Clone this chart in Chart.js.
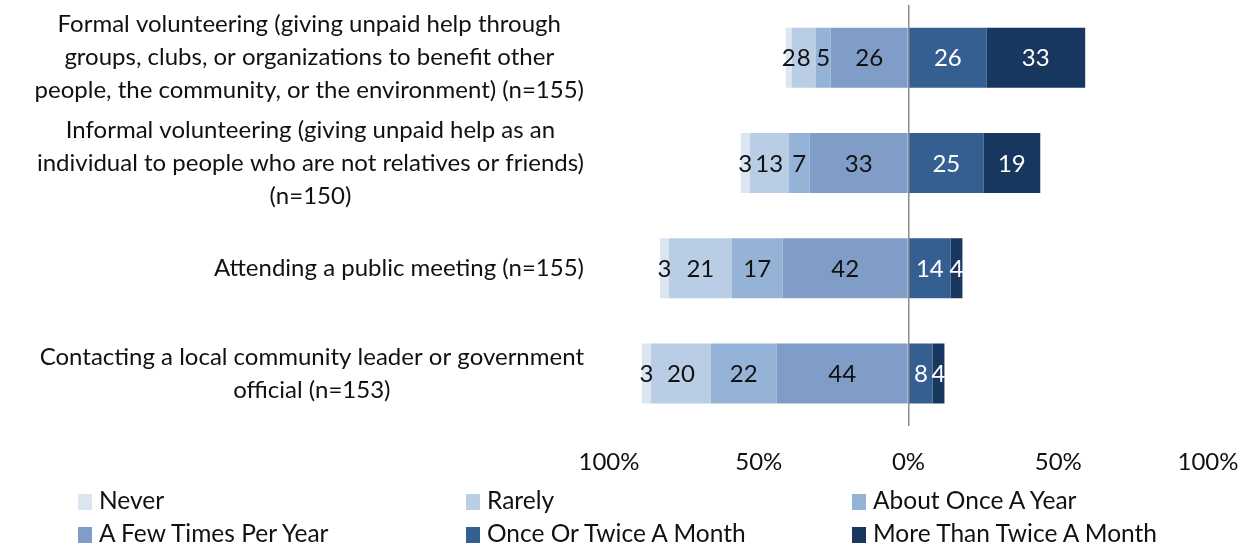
<!DOCTYPE html>
<html>
<head>
<meta charset="utf-8">
<script src="https://cdn.jsdelivr.net/npm/chart.js@4/dist/chart.umd.min.js"></script>
<style>
    html, body { margin: 0; padding: 0; background: #fff; overflow: hidden; }
    #wrap { position: relative; width: 1249px; height: 548px; overflow: hidden; }
    #chart { display: block; }
    #legend { position: absolute; left: 78px; top: 486px; width: 1170px; font-family: Lato, sans-serif; font-size: 24.5px; color: #111; }
    .item { position: absolute; white-space: nowrap; line-height: 28px; }
    .item span.sw { display: inline-block; width: 14px; height: 16px; margin-right: 7px; vertical-align: -1px; }
</style>
</head>
<body>
<div id="wrap">
    <canvas id="chart" width="1249" height="548"></canvas>
    <div id="legend"></div>
</div>
<script>
const categories = [
    ["Formal volunteering (giving unpaid help through", "groups, clubs, or organizations to benefit other", "people, the community, or the environment) (n=155)"],
    ["Informal volunteering (giving unpaid help as an", "individual to people who are not relatives or friends)", "(n=150)"],
    ["Attending a public meeting (n=155)"],
    ["Contacting a local community leader or government", "official (n=153)"]
];

// percentages per category
const never = [2, 3, 3, 3];
const rarely = [8, 13, 21, 20];
const onceAYear = [5, 7, 17, 22];
const fewTimes = [26, 33, 42, 44];
const onceOrTwice = [26, 25, 14, 8];
const moreThanTwice = [33, 19, 4, 4];

const tickValues = [-100, -50, 0, 50, 100];

const FONT = "Lato";

// left-side series go first so "A Few Times Per Year" sits next to 0
const datasets = [
    { label: "A Few Times Per Year", data: fewTimes.map(v => -v), backgroundColor: "#809dc8", legendPos: 3, textColor: "#111" },
    { label: "About Once A Year", data: onceAYear.map(v => -v), backgroundColor: "#95b3d7", legendPos: 2, textColor: "#111" },
    { label: "Rarely", data: rarely.map(v => -v), backgroundColor: "#b9cde5", legendPos: 1, textColor: "#111" },
    { label: "Never", data: never.map(v => -v), backgroundColor: "#dce6f2", legendPos: 0, textColor: "#111" },
    { label: "Once Or Twice A Month", data: onceOrTwice, backgroundColor: "#365f91", legendPos: 4, textColor: "#fff" },
    { label: "More Than Twice A Month", data: moreThanTwice, backgroundColor: "#18375e", legendPos: 5, textColor: "#fff" }
];

// value labels inside the segments
const valueLabels = {
    id: "valueLabels",
    afterDatasetsDraw(chart) {
        const ctx = chart.ctx;
        ctx.save();
        ctx.font = "24px " + FONT;
        ctx.textAlign = "center";
        ctx.textBaseline = "middle";
        chart.data.datasets.forEach((ds, i) => {
            const meta = chart.getDatasetMeta(i);
            meta.data.forEach((bar, j) => {
                ctx.fillStyle = ds.textColor;
                ctx.fillText(Math.abs(ds.data[j]), (bar.x + bar.base) / 2, bar.y + 1);
            });
        });
        ctx.restore();
    }
};

// category labels: block right-aligned to the axis, lines centred inside the block
const categoryLabels = {
    id: "categoryLabels",
    afterDraw(chart) {
        const ctx = chart.ctx;
        const yScale = chart.scales.y;
        const right = 584;
        const lineH = 33;
        ctx.save();
        ctx.font = "24px " + FONT;
        ctx.fillStyle = "#111";
        ctx.textAlign = "center";
        ctx.textBaseline = "middle";
        categories.forEach((lines, i) => {
            const maxW = Math.max(...lines.map(l => ctx.measureText(l).width));
            const cx = right - maxW / 2;
            const cy = yScale.getPixelForValue(i);
            lines.forEach((l, k) => {
                ctx.fillText(l, cx, cy + (k - (lines.length - 1) / 2) * lineH);
            });
        });
        ctx.restore();
    }
};

new Chart(document.getElementById("chart"), {
    type: "bar",
    data: {
        labels: categories,
        datasets: datasets
    },
    options: {
        indexAxis: "y",
        responsive: false,
        animation: false,
        layout: {
            padding: { left: 601, right: 41, top: 5, bottom: 69 }
        },
        datasets: {
            bar: {
                barPercentage: 0.57,
                categoryPercentage: 1
            }
        },
        plugins: {
            legend: { display: false },
            tooltip: { enabled: false }
        },
        scales: {
            x: {
                stacked: true,
                min: -100,
                max: 100,
                afterBuildTicks: scale => {
                    scale.ticks = tickValues.map(v => ({ value: v }));
                },
                grid: {
                    drawTicks: true,
                    tickLength: 20,
                    tickColor: "rgba(0,0,0,0)",
                    color: ctx => ctx.tick && ctx.tick.value === 0 ? "#8c8c8c" : "rgba(0,0,0,0)",
                    lineWidth: 1.5
                },
                border: { display: false },
                ticks: {
                    padding: 2,
                    color: "#111",
                    font: { family: FONT, size: 24 },
                    callback: v => Math.abs(v) + "%"
                }
            },
            y: {
                stacked: true,
                grid: { display: false },
                border: { display: false },
                ticks: { display: false }
            }
        }
    },
    plugins: [valueLabels, categoryLabels]
});

// legend in the original order, three columns
const legendEl = document.getElementById("legend");
const colX = [0, 388, 774];
datasets.slice().sort((a, b) => a.legendPos - b.legendPos).forEach(ds => {
    const item = document.createElement("div");
    item.className = "item";
    item.style.left = colX[ds.legendPos % 3] + "px";
    item.style.top = (Math.floor(ds.legendPos / 3) * 33) + "px";
    const sw = document.createElement("span");
    sw.className = "sw";
    sw.style.background = ds.backgroundColor;
    item.appendChild(sw);
    item.appendChild(document.createTextNode(ds.label));
    legendEl.appendChild(item);
});
</script>
</body>
</html>
